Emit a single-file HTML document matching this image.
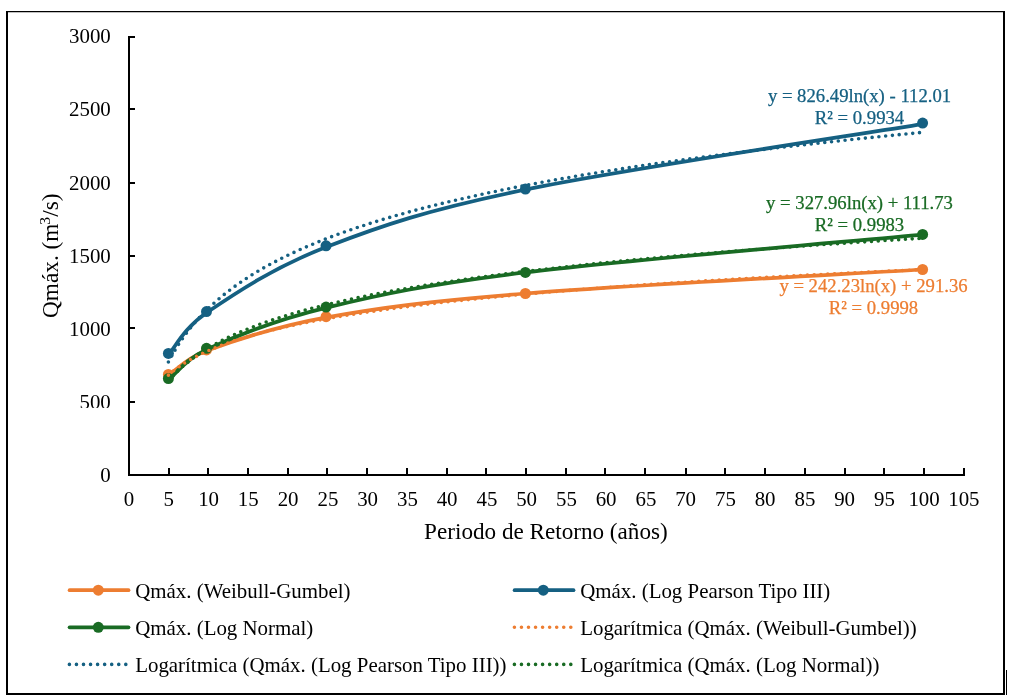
<!DOCTYPE html>
<html lang="es"><head><meta charset="utf-8"><title>Qmáx. vs Periodo de Retorno</title>
<style>
html,body{margin:0;padding:0;background:#fff;}
body{width:1009px;height:698px;overflow:hidden;font-family:"Liberation Serif",serif;}
svg{display:block;}
</style></head><body>
<svg width="1009" height="698" viewBox="0 0 1009 698">
<rect x="0" y="0" width="1009" height="698" fill="#fff"/>
<path d="M6,11H1005V695H6Z M8,12.15V693H1003V12.15Z" fill="#000" fill-rule="evenodd"/>
<rect x="1006" y="670" width="1" height="25" fill="#000"/>
<g fill="#000" shape-rendering="crispEdges">
<rect x="128" y="36" width="2" height="440"/>
<rect x="128" y="474" width="837" height="2"/>
<rect x="128" y="36" width="7" height="2"/>
<rect x="128" y="108" width="7" height="2"/>
<rect x="128" y="182" width="7" height="2"/>
<rect x="128" y="255" width="7" height="2"/>
<rect x="128" y="327" width="7" height="2"/>
<rect x="128" y="401" width="7" height="2"/>
<rect x="168" y="468" width="2" height="8"/>
<rect x="207" y="468" width="2" height="8"/>
<rect x="247" y="468" width="2" height="8"/>
<rect x="287" y="468" width="2" height="8"/>
<rect x="326" y="468" width="2" height="8"/>
<rect x="366" y="468" width="2" height="8"/>
<rect x="406" y="468" width="2" height="8"/>
<rect x="446" y="468" width="2" height="8"/>
<rect x="485" y="468" width="2" height="8"/>
<rect x="525" y="468" width="2" height="8"/>
<rect x="565" y="468" width="2" height="8"/>
<rect x="604" y="468" width="2" height="8"/>
<rect x="644" y="468" width="2" height="8"/>
<rect x="685" y="468" width="2" height="8"/>
<rect x="724" y="468" width="2" height="8"/>
<rect x="764" y="468" width="2" height="8"/>
<rect x="804" y="468" width="2" height="8"/>
<rect x="844" y="468" width="2" height="8"/>
<rect x="883" y="468" width="2" height="8"/>
<rect x="923" y="468" width="2" height="8"/>
<rect x="963" y="468" width="2" height="8"/>
</g>
<g font-family="'Liberation Serif', serif" font-size="20.9px" fill="#000">
<text x="110.8" y="43.2" text-anchor="end">3000</text>
<text x="110.8" y="116.2" text-anchor="end">2500</text>
<text x="110.8" y="190.0" text-anchor="end">2000</text>
<text x="110.8" y="262.6" text-anchor="end">1500</text>
<text x="110.8" y="335.7" text-anchor="end">1000</text>
<text x="110.8" y="408.9" text-anchor="end">500</text>
<text x="110.8" y="481.6" text-anchor="end">0</text>
<text x="129.1" y="506" text-anchor="middle">0</text>
<text x="168.8" y="506" text-anchor="middle">5</text>
<text x="208.6" y="506" text-anchor="middle">10</text>
<text x="248.3" y="506" text-anchor="middle">15</text>
<text x="288.1" y="506" text-anchor="middle">20</text>
<text x="327.9" y="506" text-anchor="middle">25</text>
<text x="367.6" y="506" text-anchor="middle">30</text>
<text x="407.4" y="506" text-anchor="middle">35</text>
<text x="447.1" y="506" text-anchor="middle">40</text>
<text x="486.9" y="506" text-anchor="middle">45</text>
<text x="526.6" y="506" text-anchor="middle">50</text>
<text x="566.4" y="506" text-anchor="middle">55</text>
<text x="606.1" y="506" text-anchor="middle">60</text>
<text x="645.9" y="506" text-anchor="middle">65</text>
<text x="685.6" y="506" text-anchor="middle">70</text>
<text x="725.4" y="506" text-anchor="middle">75</text>
<text x="765.1" y="506" text-anchor="middle">80</text>
<text x="804.9" y="506" text-anchor="middle">85</text>
<text x="844.6" y="506" text-anchor="middle">90</text>
<text x="884.4" y="506" text-anchor="middle">95</text>
<text x="924.1" y="506" text-anchor="middle">100</text>
<text x="963.9" y="506" text-anchor="middle">105</text>
</g>
<rect x="70" y="407.9" width="44" height="3" fill="#fff"/>
<text x="545.9" y="539" text-anchor="middle" font-family="'Liberation Serif', serif" font-size="23.15px" fill="#000">Periodo de Retorno (años)</text>
<text transform="translate(58.3,255.7) rotate(-90)" text-anchor="middle" font-family="'Liberation Serif', serif" font-size="23.3px" fill="#000">Qmáx. (m<tspan font-size="15.5px" dy="-8" dx="-1.3">3</tspan><tspan dy="8" dx="0.3">/s)</tspan></text>
<path d="M169.00,375.00 C175.35,370.92 185.83,358.28 207.10,350.50 C233.38,340.88 273.60,326.80 326.65,317.30 C379.70,307.80 426.07,301.47 525.40,293.50 C624.73,285.53 856.40,273.50 922.60,269.50" fill="none" stroke="#ED7D31" stroke-width="3.75" stroke-linecap="round" stroke-linejoin="round"/>
<circle cx="168.4" cy="374.4" r="5.5" fill="#ED7D31"/>
<circle cx="206.5" cy="349.9" r="5.5" fill="#ED7D31"/>
<circle cx="326.05" cy="316.7" r="5.5" fill="#ED7D31"/>
<circle cx="525.4" cy="293.5" r="5.5" fill="#ED7D31"/>
<circle cx="922.6" cy="269.5" r="5.5" fill="#ED7D31"/>
<path d="M169.00,354.00 C175.37,347.05 183.81,328.19 207.20,312.30 C233.52,294.42 273.85,267.17 326.95,246.70 C380.05,226.23 426.39,209.97 525.80,189.50 C625.21,169.03 857.13,134.83 923.40,123.90" fill="none" stroke="#156082" stroke-width="3.75" stroke-linecap="round" stroke-linejoin="round"/>
<circle cx="168.4" cy="353.4" r="5.5" fill="#156082"/>
<circle cx="206.5" cy="311.6" r="5.5" fill="#156082"/>
<circle cx="326.05" cy="245.8" r="5.5" fill="#156082"/>
<circle cx="525.4" cy="189.1" r="5.5" fill="#156082"/>
<circle cx="922.6" cy="123.1" r="5.5" fill="#156082"/>
<path d="M169.20,379.40 C175.55,374.35 185.16,359.20 207.30,349.10 C233.53,337.13 273.53,320.38 326.55,307.60 C379.57,294.82 426.06,284.57 525.40,272.40 C624.74,260.23 856.40,240.90 922.60,234.60" fill="none" stroke="#196B24" stroke-width="3.75" stroke-linecap="round" stroke-linejoin="round"/>
<circle cx="168.4" cy="378.6" r="5.5" fill="#196B24"/>
<circle cx="206.5" cy="348.3" r="5.5" fill="#196B24"/>
<circle cx="326.05" cy="307.1" r="5.5" fill="#196B24"/>
<circle cx="525.4" cy="272.4" r="5.5" fill="#196B24"/>
<circle cx="922.6" cy="234.4" r="5.5" fill="#196B24"/>
<path d="M168.40,375.14 L170.90,373.01 L173.41,370.99 L175.91,369.09 L178.41,367.28 L180.92,365.56 L183.42,363.92 L185.93,362.35 L188.43,360.85 L190.93,359.41 L193.44,358.02 L195.94,356.69 L198.44,355.41 L200.95,354.17 L203.45,352.97 L205.96,351.81 L208.46,350.69 L210.96,349.61 L213.47,348.55 L215.97,347.53 L218.47,346.53 L220.98,345.57 L223.48,344.63 L225.98,343.71 L228.49,342.81 L230.99,341.94 L233.50,341.09 L236.00,340.26 L238.50,339.45 L241.01,338.65 L243.51,337.88 L246.01,337.12 L248.52,336.37 L251.02,335.65 L253.52,334.93 L256.03,334.23 L258.53,333.55 L261.04,332.87 L263.54,332.21 L266.04,331.57 L268.55,330.93 L271.05,330.30 L273.55,329.69 L276.06,329.09 L278.56,328.49 L281.06,327.91 L283.57,327.33 L286.07,326.77 L288.58,326.21 L291.08,325.66 L293.58,325.12 L296.09,324.59 L298.59,324.07 L301.09,323.55 L303.60,323.04 L306.10,322.54 L308.61,322.05 L311.11,321.56 L313.61,321.08 L316.12,320.61 L318.62,320.14 L321.12,319.68 L323.63,319.22 L326.13,318.77 L328.63,318.33 L331.14,317.89 L333.64,317.45 L336.15,317.02 L338.65,316.60 L341.15,316.18 L343.66,315.77 L346.16,315.36 L348.66,314.96 L351.17,314.56 L353.67,314.16 L356.18,313.77 L358.68,313.39 L361.18,313.00 L363.69,312.63 L366.19,312.25 L368.69,311.88 L371.20,311.52 L373.70,311.15 L376.20,310.79 L378.71,310.44 L381.21,310.09 L383.72,309.74 L386.22,309.39 L388.72,309.05 L391.23,308.71 L393.73,308.38 L396.23,308.05 L398.74,307.72 L401.24,307.39 L403.74,307.07 L406.25,306.75 L408.75,306.43 L411.26,306.12 L413.76,305.81 L416.26,305.50 L418.77,305.19 L421.27,304.89 L423.77,304.59 L426.28,304.29 L428.78,303.99 L431.28,303.70 L433.79,303.41 L436.29,303.12 L438.80,302.84 L441.30,302.55 L443.80,302.27 L446.31,301.99 L448.81,301.71 L451.31,301.44 L453.82,301.16 L456.32,300.89 L458.83,300.63 L461.33,300.36 L463.83,300.09 L466.34,299.83 L468.84,299.57 L471.34,299.31 L473.85,299.05 L476.35,298.80 L478.85,298.55 L481.36,298.29 L483.86,298.04 L486.37,297.80 L488.87,297.55 L491.37,297.30 L493.88,297.06 L496.38,296.82 L498.88,296.58 L501.39,296.34 L503.89,296.11 L506.39,295.87 L508.90,295.64 L511.40,295.41 L513.91,295.18 L516.41,294.95 L518.91,294.72 L521.42,294.49 L523.92,294.27 L526.42,294.05 L528.93,293.82 L531.43,293.60 L533.94,293.39 L536.44,293.17 L538.94,292.95 L541.45,292.74 L543.95,292.52 L546.45,292.31 L548.96,292.10 L551.46,291.89 L553.96,291.68 L556.47,291.47 L558.97,291.27 L561.48,291.06 L563.98,290.86 L566.48,290.66 L568.99,290.45 L571.49,290.25 L573.99,290.06 L576.50,289.86 L579.00,289.66 L581.50,289.46 L584.01,289.27 L586.51,289.08 L589.02,288.88 L591.52,288.69 L594.02,288.50 L596.53,288.31 L599.03,288.12 L601.53,287.94 L604.04,287.75 L606.54,287.56 L609.05,287.38 L611.55,287.19 L614.05,287.01 L616.56,286.83 L619.06,286.65 L621.56,286.47 L624.07,286.29 L626.57,286.11 L629.07,285.94 L631.58,285.76 L634.08,285.58 L636.59,285.41 L639.09,285.24 L641.59,285.06 L644.10,284.89 L646.60,284.72 L649.10,284.55 L651.61,284.38 L654.11,284.21 L656.62,284.04 L659.12,283.88 L661.62,283.71 L664.13,283.54 L666.63,283.38 L669.13,283.21 L671.64,283.05 L674.14,282.89 L676.64,282.73 L679.15,282.57 L681.65,282.41 L684.16,282.25 L686.66,282.09 L689.16,281.93 L691.67,281.77 L694.17,281.61 L696.67,281.46 L699.18,281.30 L701.68,281.15 L704.18,280.99 L706.69,280.84 L709.19,280.69 L711.70,280.54 L714.20,280.38 L716.70,280.23 L719.21,280.08 L721.71,279.93 L724.21,279.78 L726.72,279.64 L729.22,279.49 L731.73,279.34 L734.23,279.20 L736.73,279.05 L739.24,278.90 L741.74,278.76 L744.24,278.62 L746.75,278.47 L749.25,278.33 L751.75,278.19 L754.26,278.05 L756.76,277.90 L759.27,277.76 L761.77,277.62 L764.27,277.48 L766.78,277.35 L769.28,277.21 L771.78,277.07 L774.29,276.93 L776.79,276.80 L779.29,276.66 L781.80,276.52 L784.30,276.39 L786.81,276.25 L789.31,276.12 L791.81,275.99 L794.32,275.85 L796.82,275.72 L799.32,275.59 L801.83,275.46 L804.33,275.32 L806.83,275.19 L809.34,275.06 L811.84,274.93 L814.35,274.80 L816.85,274.68 L819.35,274.55 L821.86,274.42 L824.36,274.29 L826.86,274.17 L829.37,274.04 L831.87,273.91 L834.38,273.79 L836.88,273.66 L839.38,273.54 L841.89,273.41 L844.39,273.29 L846.89,273.17 L849.40,273.04 L851.90,272.92 L854.40,272.80 L856.91,272.68 L859.41,272.55 L861.92,272.43 L864.42,272.31 L866.92,272.19 L869.43,272.07 L871.93,271.95 L874.43,271.84 L876.94,271.72 L879.44,271.60 L881.94,271.48 L884.45,271.36 L886.95,271.25 L889.46,271.13 L891.96,271.01 L894.46,270.90 L896.97,270.78 L899.47,270.67 L901.97,270.55 L904.48,270.44 L906.98,270.33 L909.49,270.21 L911.99,270.10 L914.49,269.99 L917.00,269.87 L919.50,269.76" fill="none" stroke="#ED7D31" stroke-width="3.6" stroke-linecap="round" stroke-dasharray="0 6.8"/>
<path d="M168.40,362.03 L170.90,357.31 L173.41,352.85 L175.91,348.65 L178.41,344.66 L180.92,340.87 L183.42,337.26 L185.93,333.81 L188.43,330.52 L190.93,327.36 L193.44,324.32 L195.94,321.40 L198.44,318.59 L200.95,315.88 L203.45,313.26 L205.96,310.72 L208.46,308.27 L210.96,305.90 L213.47,303.60 L215.97,301.36 L218.47,299.19 L220.98,297.08 L223.48,295.02 L225.98,293.02 L228.49,291.07 L230.99,289.17 L233.50,287.31 L236.00,285.50 L238.50,283.73 L241.01,282.00 L243.51,280.31 L246.01,278.66 L248.52,277.04 L251.02,275.45 L253.52,273.90 L256.03,272.38 L258.53,270.88 L261.04,269.42 L263.54,267.98 L266.04,266.57 L268.55,265.19 L271.05,263.83 L273.55,262.49 L276.06,261.18 L278.56,259.89 L281.06,258.62 L283.57,257.37 L286.07,256.14 L288.58,254.93 L291.08,253.74 L293.58,252.57 L296.09,251.42 L298.59,250.28 L301.09,249.16 L303.60,248.06 L306.10,246.97 L308.61,245.89 L311.11,244.84 L313.61,243.79 L316.12,242.76 L318.62,241.75 L321.12,240.74 L323.63,239.75 L326.13,238.78 L328.63,237.81 L331.14,236.86 L333.64,235.92 L336.15,234.99 L338.65,234.07 L341.15,233.16 L343.66,232.27 L346.16,231.38 L348.66,230.51 L351.17,229.64 L353.67,228.78 L356.18,227.94 L358.68,227.10 L361.18,226.27 L363.69,225.45 L366.19,224.64 L368.69,223.84 L371.20,223.04 L373.70,222.26 L376.20,221.48 L378.71,220.71 L381.21,219.95 L383.72,219.19 L386.22,218.44 L388.72,217.70 L391.23,216.97 L393.73,216.24 L396.23,215.52 L398.74,214.81 L401.24,214.11 L403.74,213.41 L406.25,212.71 L408.75,212.03 L411.26,211.35 L413.76,210.67 L416.26,210.00 L418.77,209.34 L421.27,208.68 L423.77,208.03 L426.28,207.38 L428.78,206.74 L431.28,206.11 L433.79,205.48 L436.29,204.85 L438.80,204.23 L441.30,203.62 L443.80,203.01 L446.31,202.40 L448.81,201.80 L451.31,201.21 L453.82,200.61 L456.32,200.03 L458.83,199.45 L461.33,198.87 L463.83,198.29 L466.34,197.72 L468.84,197.16 L471.34,196.60 L473.85,196.04 L476.35,195.49 L478.85,194.94 L481.36,194.40 L483.86,193.86 L486.37,193.32 L488.87,192.78 L491.37,192.25 L493.88,191.73 L496.38,191.21 L498.88,190.69 L501.39,190.17 L503.89,189.66 L506.39,189.15 L508.90,188.65 L511.40,188.14 L513.91,187.65 L516.41,187.15 L518.91,186.66 L521.42,186.17 L523.92,185.68 L526.42,185.20 L528.93,184.72 L531.43,184.24 L533.94,183.77 L536.44,183.30 L538.94,182.83 L541.45,182.37 L543.95,181.90 L546.45,181.44 L548.96,180.99 L551.46,180.53 L553.96,180.08 L556.47,179.63 L558.97,179.19 L561.48,178.74 L563.98,178.30 L566.48,177.86 L568.99,177.43 L571.49,177.00 L573.99,176.56 L576.50,176.14 L579.00,175.71 L581.50,175.29 L584.01,174.86 L586.51,174.44 L589.02,174.03 L591.52,173.61 L594.02,173.20 L596.53,172.79 L599.03,172.38 L601.53,171.98 L604.04,171.57 L606.54,171.17 L609.05,170.77 L611.55,170.37 L614.05,169.98 L616.56,169.59 L619.06,169.19 L621.56,168.81 L624.07,168.42 L626.57,168.03 L629.07,167.65 L631.58,167.27 L634.08,166.89 L636.59,166.51 L639.09,166.13 L641.59,165.76 L644.10,165.39 L646.60,165.02 L649.10,164.65 L651.61,164.28 L654.11,163.92 L656.62,163.55 L659.12,163.19 L661.62,162.83 L664.13,162.47 L666.63,162.12 L669.13,161.76 L671.64,161.41 L674.14,161.06 L676.64,160.71 L679.15,160.36 L681.65,160.01 L684.16,159.67 L686.66,159.32 L689.16,158.98 L691.67,158.64 L694.17,158.30 L696.67,157.96 L699.18,157.63 L701.68,157.29 L704.18,156.96 L706.69,156.63 L709.19,156.30 L711.70,155.97 L714.20,155.64 L716.70,155.32 L719.21,154.99 L721.71,154.67 L724.21,154.35 L726.72,154.03 L729.22,153.71 L731.73,153.39 L734.23,153.07 L736.73,152.76 L739.24,152.44 L741.74,152.13 L744.24,151.82 L746.75,151.51 L749.25,151.20 L751.75,150.89 L754.26,150.58 L756.76,150.28 L759.27,149.98 L761.77,149.67 L764.27,149.37 L766.78,149.07 L769.28,148.77 L771.78,148.47 L774.29,148.18 L776.79,147.88 L779.29,147.59 L781.80,147.29 L784.30,147.00 L786.81,146.71 L789.31,146.42 L791.81,146.13 L794.32,145.84 L796.82,145.55 L799.32,145.27 L801.83,144.98 L804.33,144.70 L806.83,144.42 L809.34,144.14 L811.84,143.86 L814.35,143.58 L816.85,143.30 L819.35,143.02 L821.86,142.74 L824.36,142.47 L826.86,142.19 L829.37,141.92 L831.87,141.65 L834.38,141.38 L836.88,141.10 L839.38,140.84 L841.89,140.57 L844.39,140.30 L846.89,140.03 L849.40,139.77 L851.90,139.50 L854.40,139.24 L856.91,138.97 L859.41,138.71 L861.92,138.45 L864.42,138.19 L866.92,137.93 L869.43,137.67 L871.93,137.41 L874.43,137.16 L876.94,136.90 L879.44,136.65 L881.94,136.39 L884.45,136.14 L886.95,135.88 L889.46,135.63 L891.96,135.38 L894.46,135.13 L896.97,134.88 L899.47,134.63 L901.97,134.39 L904.48,134.14 L906.98,133.89 L909.49,133.65 L911.99,133.40 L914.49,133.16 L917.00,132.92 L919.50,132.67" fill="none" stroke="#156082" stroke-width="3.6" stroke-linecap="round" stroke-dasharray="0 6.8"/>
<path d="M168.40,381.09 L170.90,378.19 L173.41,375.46 L175.91,372.88 L178.41,370.43 L180.92,368.10 L183.42,365.88 L185.93,363.76 L188.43,361.73 L190.93,359.78 L193.44,357.90 L195.94,356.10 L198.44,354.36 L200.95,352.68 L203.45,351.06 L205.96,349.50 L208.46,347.98 L210.96,346.51 L213.47,345.08 L215.97,343.70 L218.47,342.35 L220.98,341.04 L223.48,339.76 L225.98,338.52 L228.49,337.31 L230.99,336.13 L233.50,334.98 L236.00,333.85 L238.50,332.75 L241.01,331.68 L243.51,330.63 L246.01,329.60 L248.52,328.59 L251.02,327.61 L253.52,326.64 L256.03,325.69 L258.53,324.77 L261.04,323.85 L263.54,322.96 L266.04,322.08 L268.55,321.22 L271.05,320.37 L273.55,319.54 L276.06,318.72 L278.56,317.92 L281.06,317.13 L283.57,316.35 L286.07,315.59 L288.58,314.83 L291.08,314.09 L293.58,313.36 L296.09,312.64 L298.59,311.93 L301.09,311.23 L303.60,310.55 L306.10,309.87 L308.61,309.20 L311.11,308.54 L313.61,307.89 L316.12,307.24 L318.62,306.61 L321.12,305.99 L323.63,305.37 L326.13,304.76 L328.63,304.16 L331.14,303.56 L333.64,302.98 L336.15,302.40 L338.65,301.82 L341.15,301.26 L343.66,300.70 L346.16,300.14 L348.66,299.60 L351.17,299.06 L353.67,298.52 L356.18,297.99 L358.68,297.47 L361.18,296.95 L363.69,296.44 L366.19,295.93 L368.69,295.43 L371.20,294.94 L373.70,294.45 L376.20,293.96 L378.71,293.48 L381.21,293.00 L383.72,292.53 L386.22,292.06 L388.72,291.60 L391.23,291.14 L393.73,290.69 L396.23,290.24 L398.74,289.80 L401.24,289.35 L403.74,288.92 L406.25,288.48 L408.75,288.06 L411.26,287.63 L413.76,287.21 L416.26,286.79 L418.77,286.38 L421.27,285.96 L423.77,285.56 L426.28,285.15 L428.78,284.75 L431.28,284.36 L433.79,283.96 L436.29,283.57 L438.80,283.18 L441.30,282.80 L443.80,282.42 L446.31,282.04 L448.81,281.66 L451.31,281.29 L453.82,280.92 L456.32,280.56 L458.83,280.19 L461.33,279.83 L463.83,279.47 L466.34,279.12 L468.84,278.76 L471.34,278.41 L473.85,278.06 L476.35,277.72 L478.85,277.38 L481.36,277.03 L483.86,276.70 L486.37,276.36 L488.87,276.03 L491.37,275.70 L493.88,275.37 L496.38,275.04 L498.88,274.72 L501.39,274.39 L503.89,274.07 L506.39,273.76 L508.90,273.44 L511.40,273.13 L513.91,272.81 L516.41,272.50 L518.91,272.20 L521.42,271.89 L523.92,271.59 L526.42,271.28 L528.93,270.98 L531.43,270.69 L533.94,270.39 L536.44,270.09 L538.94,269.80 L541.45,269.51 L543.95,269.22 L546.45,268.93 L548.96,268.65 L551.46,268.36 L553.96,268.08 L556.47,267.80 L558.97,267.52 L561.48,267.24 L563.98,266.97 L566.48,266.69 L568.99,266.42 L571.49,266.15 L573.99,265.88 L576.50,265.61 L579.00,265.35 L581.50,265.08 L584.01,264.82 L586.51,264.55 L589.02,264.29 L591.52,264.03 L594.02,263.78 L596.53,263.52 L599.03,263.26 L601.53,263.01 L604.04,262.76 L606.54,262.51 L609.05,262.26 L611.55,262.01 L614.05,261.76 L616.56,261.51 L619.06,261.27 L621.56,261.03 L624.07,260.78 L626.57,260.54 L629.07,260.30 L631.58,260.06 L634.08,259.83 L636.59,259.59 L639.09,259.35 L641.59,259.12 L644.10,258.89 L646.60,258.66 L649.10,258.43 L651.61,258.20 L654.11,257.97 L656.62,257.74 L659.12,257.51 L661.62,257.29 L664.13,257.06 L666.63,256.84 L669.13,256.62 L671.64,256.40 L674.14,256.18 L676.64,255.96 L679.15,255.74 L681.65,255.52 L684.16,255.31 L686.66,255.09 L689.16,254.88 L691.67,254.66 L694.17,254.45 L696.67,254.24 L699.18,254.03 L701.68,253.82 L704.18,253.61 L706.69,253.40 L709.19,253.20 L711.70,252.99 L714.20,252.79 L716.70,252.58 L719.21,252.38 L721.71,252.18 L724.21,251.98 L726.72,251.78 L729.22,251.58 L731.73,251.38 L734.23,251.18 L736.73,250.98 L739.24,250.78 L741.74,250.59 L744.24,250.39 L746.75,250.20 L749.25,250.01 L751.75,249.81 L754.26,249.62 L756.76,249.43 L759.27,249.24 L761.77,249.05 L764.27,248.86 L766.78,248.67 L769.28,248.49 L771.78,248.30 L774.29,248.11 L776.79,247.93 L779.29,247.74 L781.80,247.56 L784.30,247.38 L786.81,247.19 L789.31,247.01 L791.81,246.83 L794.32,246.65 L796.82,246.47 L799.32,246.29 L801.83,246.11 L804.33,245.94 L806.83,245.76 L809.34,245.58 L811.84,245.41 L814.35,245.23 L816.85,245.06 L819.35,244.88 L821.86,244.71 L824.36,244.54 L826.86,244.37 L829.37,244.20 L831.87,244.02 L834.38,243.85 L836.88,243.69 L839.38,243.52 L841.89,243.35 L844.39,243.18 L846.89,243.01 L849.40,242.85 L851.90,242.68 L854.40,242.52 L856.91,242.35 L859.41,242.19 L861.92,242.02 L864.42,241.86 L866.92,241.70 L869.43,241.54 L871.93,241.37 L874.43,241.21 L876.94,241.05 L879.44,240.89 L881.94,240.73 L884.45,240.57 L886.95,240.42 L889.46,240.26 L891.96,240.10 L894.46,239.94 L896.97,239.79 L899.47,239.63 L901.97,239.48 L904.48,239.32 L906.98,239.17 L909.49,239.02 L911.99,238.86 L914.49,238.71 L917.00,238.56 L919.50,238.41" fill="none" stroke="#196B24" stroke-width="3.6" stroke-linecap="round" stroke-dasharray="0 6.8"/>
<g font-family="'Liberation Serif', serif" font-size="18.7px" fill="#156082" stroke="#156082" stroke-width="0.25" text-anchor="middle">
<text x="859.5" y="102.1">y = 826.49ln(x) - 112.01</text>
<text x="859.5" y="124.0">R² = 0.9934</text>
</g>
<g font-family="'Liberation Serif', serif" font-size="18.7px" fill="#196B24" stroke="#196B24" stroke-width="0.25" text-anchor="middle">
<text x="859.5" y="209.4">y = 327.96ln(x) + 111.73</text>
<text x="859.5" y="231.2">R² = 0.9983</text>
</g>
<g font-family="'Liberation Serif', serif" font-size="18.7px" fill="#ED7D31" stroke="#ED7D31" stroke-width="0.25" text-anchor="middle">
<text x="873.5" y="291.5">y = 242.23ln(x) + 291.36</text>
<text x="873.5" y="313.5">R² = 0.9998</text>
</g>
<line x1="69.6" y1="590.2" x2="128.5" y2="590.2" stroke="#ED7D31" stroke-width="3.75" stroke-linecap="round"/>
<circle cx="98.3" cy="590.2" r="5.5" fill="#ED7D31"/>
<text x="135.2" y="598.0" font-family="'Liberation Serif', serif" font-size="20.9px" fill="#000">Qmáx. (Weibull-Gumbel)</text>
<line x1="514.6" y1="590.2" x2="573.5" y2="590.2" stroke="#156082" stroke-width="3.75" stroke-linecap="round"/>
<circle cx="543.3" cy="590.2" r="5.5" fill="#156082"/>
<text x="580.2" y="598.0" font-family="'Liberation Serif', serif" font-size="20.9px" fill="#000">Qmáx. (Log Pearson Tipo III)</text>
<line x1="69.6" y1="627.3" x2="128.5" y2="627.3" stroke="#196B24" stroke-width="3.75" stroke-linecap="round"/>
<circle cx="98.3" cy="627.3" r="5.5" fill="#196B24"/>
<text x="135.2" y="634.7" font-family="'Liberation Serif', serif" font-size="20.9px" fill="#000">Qmáx. (Log Normal)</text>
<line x1="514.4" y1="627.3" x2="574" y2="627.3" stroke="#ED7D31" stroke-width="3.6" stroke-linecap="round" stroke-dasharray="0 7.05"/>
<text x="580.2" y="634.7" font-family="'Liberation Serif', serif" font-size="20.9px" fill="#000">Logarítmica (Qmáx. (Weibull-Gumbel))</text>
<line x1="69.4" y1="664.4" x2="129" y2="664.4" stroke="#156082" stroke-width="3.6" stroke-linecap="round" stroke-dasharray="0 7.05"/>
<text x="135.2" y="672.2" font-family="'Liberation Serif', serif" font-size="20.9px" fill="#000">Logarítmica (Qmáx. (Log Pearson Tipo III))</text>
<line x1="514.4" y1="664.4" x2="574" y2="664.4" stroke="#196B24" stroke-width="3.6" stroke-linecap="round" stroke-dasharray="0 7.05"/>
<text x="580.2" y="672.2" font-family="'Liberation Serif', serif" font-size="20.9px" fill="#000">Logarítmica (Qmáx. (Log Normal))</text>
</svg>
</body></html>
